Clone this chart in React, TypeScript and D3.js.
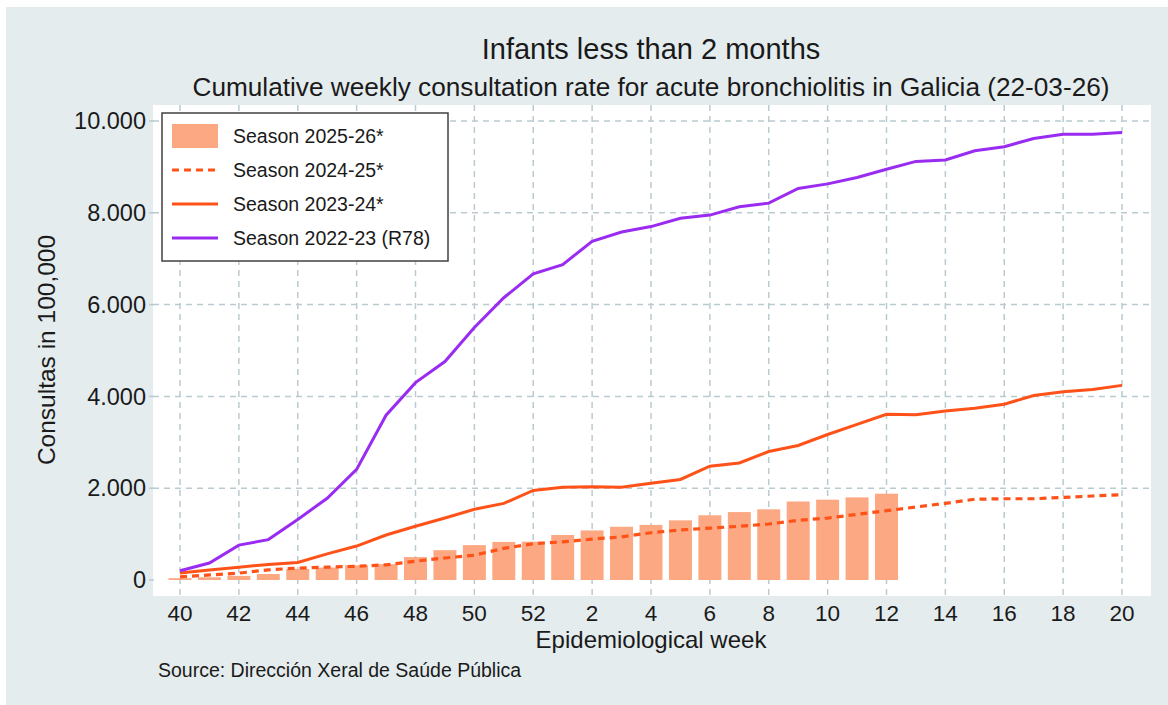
import React from 'react';
import * as d3 from 'd3';

// epidemiological weeks, season runs from week 40 to week 20
const weeks = [40, 41, 42, 43, 44, 45, 46, 47, 48, 49, 50, 51, 52, 1, 2, 3, 4, 5, 6, 7, 8, 9, 10, 11, 12, 13, 14, 15, 16, 17, 18, 19, 20];
const weekTicks = [40, 42, 44, 46, 48, 50, 52, 2, 4, 6, 8, 10, 12, 14, 16, 18, 20];
const yTicks = [0, 2000, 4000, 6000, 8000, 10000];

// cumulative rate per 100,000
const season2526 = [40, 60, 90, 130, 240, 270, 320, 345, 500, 650, 760, 830, 835, 980, 1080, 1160, 1200, 1300, 1410, 1480, 1540, 1710, 1750, 1800, 1880];
const season2425 = [70, 110, 150, 220, 260, 280, 300, 330, 410, 480, 540, 690, 790, 830, 890, 940, 1030, 1090, 1130, 1170, 1220, 1300, 1350, 1430, 1510, 1590, 1670, 1760, 1770, 1770, 1800, 1830, 1860];
const season2324 = [150, 220, 280, 340, 380, 570, 740, 980, 1170, 1350, 1540, 1670, 1950, 2020, 2030, 2020, 2110, 2190, 2480, 2550, 2800, 2930, 3170, 3390, 3610, 3600, 3680, 3740, 3830, 4020, 4100, 4150, 4240];
const season2223 = [200, 370, 760, 880, 1320, 1780, 2410, 3590, 4300, 4760, 5500, 6150, 6670, 6870, 7380, 7580, 7700, 7880, 7950, 8130, 8210, 8530, 8630, 8770, 8950, 9120, 9150, 9350, 9440, 9620, 9710, 9710, 9750];

const seriesLabels = ['Season 2025-26*', 'Season 2024-25*', 'Season 2023-24*', 'Season 2022-23 (R78)'];

const W = 1168;
const H = 705;
const FONT = "'Liberation Sans', Arial, sans-serif";

const barColor = '#fca882';
const orange = '#ff5219';
const purple = '#9a2cf2';
const gridColor = '#b9cbd0';

const esFormat = d3.formatLocale({ decimal: ',', thousands: '.', grouping: [3], currency: ['', ''] }).format(',d');

export default function App() {
  const plot = { left: 153, right: 1151, top: 105, bottom: 596 };

  const step = (1122 - 180) / (weeks.length - 1);
  const x = d3
    .scaleBand<number>()
    .domain(weeks)
    .range([180 - step / 2, 1122 + step / 2])
    .paddingInner(0.22)
    .paddingOuter(0.11);
  const cx = (w: number) => (x(w) as number) + x.bandwidth() / 2;

  const y = d3.scaleLinear().domain([0, 10000]).range([580, 121]);

  const line = d3
    .line<number>()
    .x((d, i) => cx(weeks[i]))
    .y(d => y(d));

  const legendRows = [136, 170, 204, 238];

  return (
    <svg width={W} height={H} style={{ position: 'absolute', left: 0, top: 0 }} fontFamily={FONT}>
      <rect x={0} y={0} width={W} height={H} fill="#ffffff" />
      <rect x={6} y={7} width={W - 6} height={H - 7} fill="#e4ecee" />
      <rect x={plot.left} y={plot.top} width={plot.right - plot.left} height={plot.bottom - plot.top} fill="#ffffff" />

      {/* grid */}
      {yTicks.filter(t => t > 0).map(t => (
        <line key={'gy' + t} x1={plot.left} x2={plot.right} y1={y(t)} y2={y(t)} stroke={gridColor} strokeWidth={1.5} strokeDasharray="6,5" />
      ))}
      {weekTicks.map(w => (
        <line key={'gx' + w} x1={cx(w)} x2={cx(w)} y1={plot.top} y2={plot.bottom} stroke={gridColor} strokeWidth={1.5} strokeDasharray="6,5" />
      ))}

      {/* y axis */}
      {yTicks.map(t => (
        <g key={'yt' + t}>
          <line x1={149} x2={154} y1={y(t)} y2={y(t)} stroke={gridColor} strokeWidth={1.5} />
          <text x={146} y={y(t)} dy="0.35em" textAnchor="end" fontSize={23.5} fill="#1a1a1a">
            {esFormat(t)}
          </text>
        </g>
      ))}
      <text transform={`translate(55,350) rotate(-90)`} textAnchor="middle" fontSize={24.5} fill="#1a1a1a">
        Consultas in 100,000
      </text>

      {/* x axis */}
      {weekTicks.map(w => (
        <text key={'xt' + w} x={cx(w)} y={621} textAnchor="middle" fontSize={22.5} fill="#1a1a1a">
          {w}
        </text>
      ))}
      <text x={651} y={648} textAnchor="middle" fontSize={24} fill="#1a1a1a">
        Epidemiological week
      </text>

      {/* bars */}
      {season2526.map((v, i) => (
        <rect key={'b' + i} x={x(weeks[i])} y={y(v)} width={x.bandwidth()} height={y(0) - y(v)} fill={barColor} />
      ))}

      {/* lines */}
      <path d={line(season2425) || ''} fill="none" stroke={orange} strokeWidth={3.2} strokeDasharray="7,5" />
      <path d={line(season2324) || ''} fill="none" stroke={orange} strokeWidth={3} />
      <path d={line(season2223) || ''} fill="none" stroke={purple} strokeWidth={3} />

      {/* legend */}
      <rect x={162} y={113} width={286} height={148} fill="#ffffff" stroke="#404040" strokeWidth={1.5} />
      <rect x={172} y={legendRows[0] - 12} width={46} height={24} fill={barColor} />
      <line x1={172} x2={218} y1={legendRows[1]} y2={legendRows[1]} stroke={orange} strokeWidth={3.2} strokeDasharray="7,5" />
      <line x1={172} x2={218} y1={legendRows[2]} y2={legendRows[2]} stroke={orange} strokeWidth={3} />
      <line x1={172} x2={218} y1={legendRows[3]} y2={legendRows[3]} stroke={purple} strokeWidth={3} />
      {seriesLabels.map((s, i) => (
        <text key={s} x={233} y={legendRows[i]} dy="0.35em" fontSize={19.5} fill="#1a1a1a">
          {s}
        </text>
      ))}

      {/* titles */}
      <text x={651} y={59} textAnchor="middle" fontSize={29} fill="#1a1a1a">
        Infants less than 2 months
      </text>
      <text x={651} y={96} textAnchor="middle" fontSize={26.2} fill="#1a1a1a">
        Cumulative weekly consultation rate for acute bronchiolitis in Galicia (22-03-26)
      </text>
      <text x={158} y={677} fontSize={19.5} fill="#1a1a1a">
        Source: Dirección Xeral de Saúde Pública
      </text>
    </svg>
  );
}
